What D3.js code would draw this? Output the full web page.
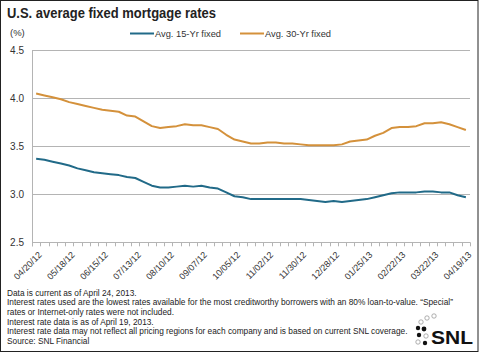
<!DOCTYPE html>
<html lang="en">
<head>
<meta charset="utf-8">
<title>U.S. average fixed mortgage rates</title>
<script src="https://cdn.jsdelivr.net/npm/d3@7/dist/d3.min.js"></script>
<style>
  body { margin: 0; background: #fff; }
  svg { display: block; font-family: "Liberation Sans", Arial, sans-serif; }
  .grid line { stroke: #b4b4b4; stroke-width: 1; shape-rendering: crispEdges; }
  .grid path { stroke-width: 0; }
  .y-axis path { stroke-width: 0; }
  .y-axis text { font-size: 10px; fill: #333; }
  .x-axis path { stroke-width: 0; }
  .x-axis text { font-size: 9px; fill: #333; }
  .note { font-size: 8.3px; fill: #222; }
</style>
</head>
<body>
<script>
var w = 480, h = 352;

var dates = ["04/20/12","04/27/12","05/04/12","05/11/12","05/18/12","05/25/12","06/01/12","06/08/12",
  "06/15/12","06/22/12","06/29/12","07/06/12","07/13/12","07/20/12","07/27/12","08/03/12","08/10/12",
  "08/17/12","08/24/12","08/31/12","09/07/12","09/14/12","09/21/12","09/28/12","10/05/12","10/12/12",
  "10/19/12","10/26/12","11/02/12","11/09/12","11/16/12","11/23/12","11/30/12","12/07/12","12/14/12",
  "12/21/12","12/28/12","01/04/13","01/11/13","01/18/13","01/25/13","02/01/13","02/08/13","02/15/13",
  "02/22/13","03/01/13","03/08/13","03/15/13","03/22/13","03/29/13","04/05/13","04/12/13","04/19/13"];

var fixed15 = [3.37,3.36,3.34,3.32,3.30,3.27,3.25,3.23,3.22,3.21,3.20,3.18,3.17,3.13,3.09,3.07,3.07,
  3.08,3.09,3.08,3.09,3.07,3.06,3.02,2.98,2.97,2.95,2.95,2.95,2.95,2.95,2.95,2.95,2.94,2.93,2.92,
  2.93,2.92,2.93,2.94,2.95,2.97,2.99,3.01,3.02,3.02,3.02,3.03,3.03,3.02,3.02,2.99,2.97];

var fixed30 = [4.05,4.03,4.01,3.99,3.96,3.94,3.92,3.90,3.88,3.87,3.86,3.82,3.81,3.76,3.71,3.69,3.70,
  3.71,3.73,3.72,3.72,3.70,3.68,3.62,3.57,3.55,3.53,3.53,3.54,3.54,3.53,3.53,3.52,3.51,3.51,3.51,
  3.51,3.52,3.55,3.56,3.57,3.61,3.64,3.69,3.70,3.70,3.71,3.74,3.74,3.75,3.73,3.70,3.67];

var xLabels = ["04/20/12","05/18/12","06/15/12","07/13/12","08/10/12","09/07/12","10/05/12",
  "11/02/12","11/30/12","12/28/12","01/25/13","02/22/13","03/22/13","04/19/13"];
var yTicks = [2.5, 3.0, 3.5, 4.0, 4.5];

var notes = [
  "Data is current as of April 24, 2013.",
  "Interest rates used are the lowest rates available for the most creditworthy borrowers with an 80% loan-to-value. \u201cSpecial\u201d",
  "rates or Internet-only rates were not included.",
  "Interest rate data is as of April 19, 2013.",
  "Interest rate data may not reflect all pricing regions for each company and is based on current SNL coverage.",
  "Source: SNL Financial"
];

var blue = "#216a88", orange = "#d4913b";

// plot box (note: "top" is reserved on window, so use other names)
var plotL = 32, plotR = 470, plotT = 50.3, plotB = 242.3;

var x = d3.scaleBand().domain(dates).range([plotL, plotR]);
var y = d3.scaleLinear().domain([2.5, 4.5]).range([plotB, plotT]);
var bw = x.bandwidth();

var svg = d3.select("body").append("svg").attr("width", w).attr("height", h);

// frame
svg.append("rect").attr("x", 0.5).attr("y", 0.5).attr("width", 477.5).attr("height", 351)
  .attr("fill", "none").attr("stroke", "#222").attr("stroke-width", 1);

// title
svg.append("text").attr("x", 7).attr("y", 18)
  .attr("font-size", 14).attr("font-weight", "bold").attr("fill", "#222")
  .attr("textLength", 209).attr("lengthAdjust", "spacingAndGlyphs")
  .text("U.S. average fixed mortgage rates");

svg.append("text").attr("x", 10).attr("y", 36).attr("font-size", 9.5).attr("fill", "#333").text("(%)");

// legend
var legend = [{name: "Avg. 15-Yr fixed", color: blue, x: 130}, {name: "Avg. 30-Yr fixed", color: orange, x: 240}];
var lg = svg.selectAll(".legend").data(legend).enter().append("g")
  .attr("class", "legend").attr("transform", function (d) { return "translate(" + d.x + ",33.5)"; });
lg.append("line").attr("x1", 0).attr("x2", 24).attr("stroke", function (d) { return d.color; }).attr("stroke-width", 2);
lg.append("text").attr("x", 25).attr("y", 3.2).attr("font-size", 9.3).attr("fill", "#333")
  .text(function (d) { return d.name; });

// horizontal gridlines
svg.append("g").attr("class", "grid")
  .attr("transform", "translate(" + plotL + ",0)")
  .call(d3.axisLeft(y).tickValues(yTicks).tickSize(-(plotR - plotL)).tickFormat(""));

// left axis line
svg.append("line").attr("x1", plotL + 0.5).attr("x2", plotL + 0.5).attr("y1", plotT).attr("y2", plotB + 4)
  .attr("stroke", "#b4b4b4");

// y labels
svg.append("g").attr("class", "y-axis")
  .attr("transform", "translate(" + (plotL - 1) + ",0)")
  .call(d3.axisLeft(y).tickValues(yTicks).tickSize(0).tickPadding(7).tickFormat(d3.format(".1f")));

// x tick marks at week boundaries
var edges = dates.map(function (d) { return x(d); }).concat([plotR]);
svg.append("g").selectAll("line").data(edges).enter().append("line")
  .attr("x1", function (d) { return Math.round(d) + 0.5; })
  .attr("x2", function (d) { return Math.round(d) + 0.5; })
  .attr("y1", plotB).attr("y2", plotB + 4)
  .attr("stroke", "#b4b4b4");

// x labels
var xa = svg.append("g").attr("class", "x-axis")
  .attr("transform", "translate(0," + plotB + ")")
  .call(d3.axisBottom(x).tickValues(xLabels).tickSize(0).tickFormat(function (d) { return d; }));
xa.selectAll("text")
  .attr("text-anchor", "end")
  .attr("y", null)
  .attr("transform", "translate(4,11) rotate(-45)")
  .attr("dy", "0.35em");

// lines
var line = d3.line()
  .x(function (d, i) { return x(dates[i]) + bw / 2; })
  .y(function (d) { return y(d); });

svg.append("path").datum(fixed30).attr("fill", "none").attr("stroke", orange)
  .attr("stroke-width", 2).attr("stroke-linejoin", "round").attr("d", line);
svg.append("path").datum(fixed15).attr("fill", "none").attr("stroke", blue)
  .attr("stroke-width", 2).attr("stroke-linejoin", "round").attr("d", line);

// notes
svg.append("g").selectAll("text").data(notes).enter().append("text")
  .attr("class", "note").attr("x", 7)
  .attr("y", function (d, i) { return 295.5 + i * 9.7; })
  .text(function (d) { return d; });

// SNL logo
var logo = svg.append("g").attr("transform", "translate(415,316)");
var dots = [[12, 2, 2.2, 0], [19, 0, 2.2, 0], [6, 6, 2.2, 0], [3, 12, 2.2, 1], [9, 13, 2.4, 1],
  [4, 19, 2.2, 1], [11, 20, 2.2, 0], [3, 26, 2.2, 0], [10, 27, 2.2, 1]];
logo.selectAll("circle").data(dots).enter().append("circle")
  .attr("cx", function (d) { return d[0]; }).attr("cy", function (d) { return d[1]; })
  .attr("r", function (d) { return d[2]; })
  .attr("fill", function (d) { return d[3] ? "#111" : "#fff"; })
  .attr("stroke", function (d) { return d[3] ? "none" : "#999"; }).attr("stroke-width", 0.8);
logo.append("text").attr("x", 16).attr("y", 28).attr("font-size", 19).attr("font-weight", "bold")
  .attr("fill", "#111").attr("textLength", 42).attr("lengthAdjust", "spacingAndGlyphs").text("SNL");
</script>
</body>
</html>
